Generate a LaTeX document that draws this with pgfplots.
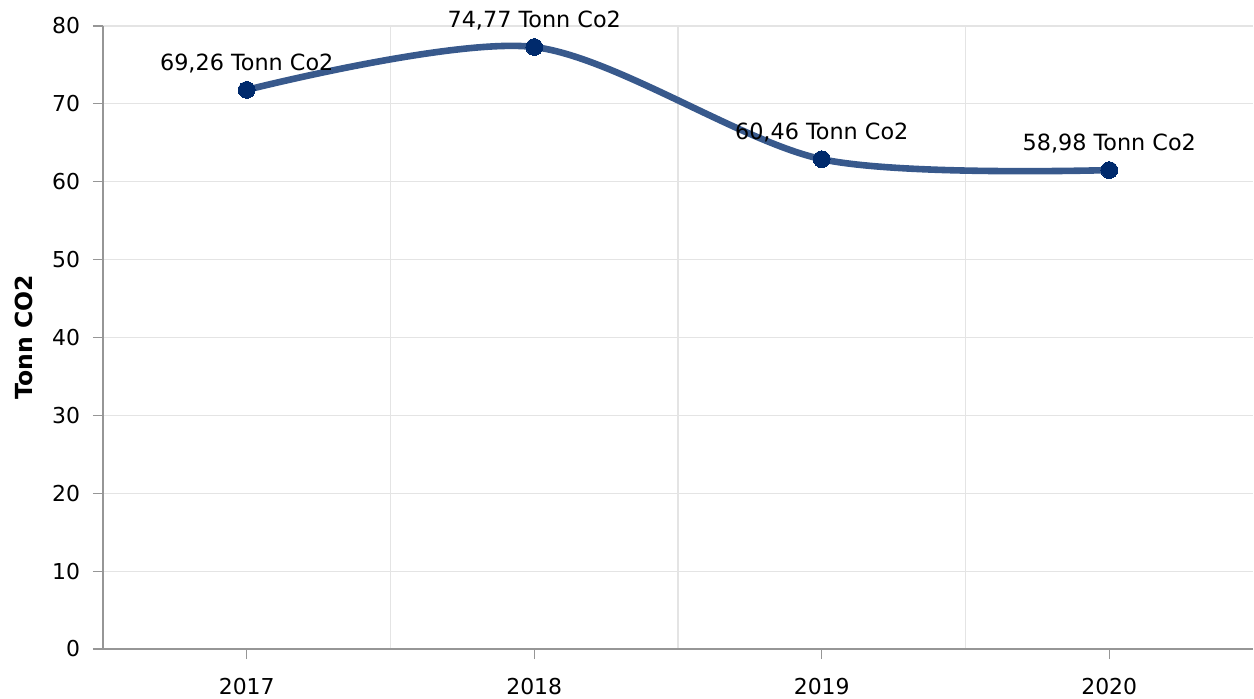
\documentclass[border=0pt]{standalone}
\usepackage{fontspec}
\setmainfont{DejaVu Sans}
\usepackage{pgfplots}
\pgfplotsset{compat=1.18}
\definecolor{linecol}{RGB}{56,89,140}
\definecolor{markcol}{RGB}{0,42,108}
\definecolor{gridcol}{RGB}{228,228,228}
\definecolor{axcol}{RGB}{150,150,150}
\begin{document}
\begin{tikzpicture}
\path[use as bounding box] (-51.5bp,-25bp) rectangle (575.5bp,324.5bp);
\begin{axis}[
  at={(0,0)}, anchor=south west,
  scale only axis, width=575bp, height=311.5bp,
  xmin=-0.5, xmax=3.5, ymin=0, ymax=80,
  xtick={0,1,2,3}, xticklabels={2017,2018,2019,2020},
  minor xtick={0.5,1.5,2.5},
  ytick={0,10,...,80},
  xminorgrids=true, ymajorgrids=true, xmajorgrids=false,
  grid style={gridcol, line width=0.6bp},
  minor grid style={gridcol, line width=0.6bp},
  minor tick length=0pt,
  axis x line*=bottom, axis y line*=left,
  axis line style={axcol, line width=0.8bp, -},
  tick align=outside, major tick length=5bp,
  tick style={axcol, line width=0.6bp},
  font=\fontsize{11}{13}\selectfont,
  tick label style={font=\fontsize{11}{13}\selectfont, black},
  xticklabel style={yshift=-6bp},
  yticklabel style={xshift=-3bp},
  /pgf/number format/assume math mode=true,
  ylabel={\textbf{Tonn CO2}},
  ylabel style={font=\fontsize{11.8}{14}\selectfont, yshift=3bp},
  clip=false,
]
\addplot[linecol, line width=3.3bp, smooth, mark=*, mark size=4.2bp,
  mark options={markcol, fill=markcol, line width=0pt}]
  coordinates {(0,71.8) (1,77.3) (2,62.9) (3,61.5)};
\node[above=5bp, font=\fontsize{11.2}{13}\selectfont] at (axis cs:0,71.8) {69,26 Tonn Co2};
\node[above=5bp, font=\fontsize{11.2}{13}\selectfont] at (axis cs:1,77.3) {74,77 Tonn Co2};
\node[above=5bp, font=\fontsize{11.2}{13}\selectfont] at (axis cs:2,62.9) {60,46 Tonn Co2};
\node[above=5bp, font=\fontsize{11.2}{13}\selectfont] at (axis cs:3,61.5) {58,98 Tonn Co2};
\end{axis}
\end{tikzpicture}
\end{document}
